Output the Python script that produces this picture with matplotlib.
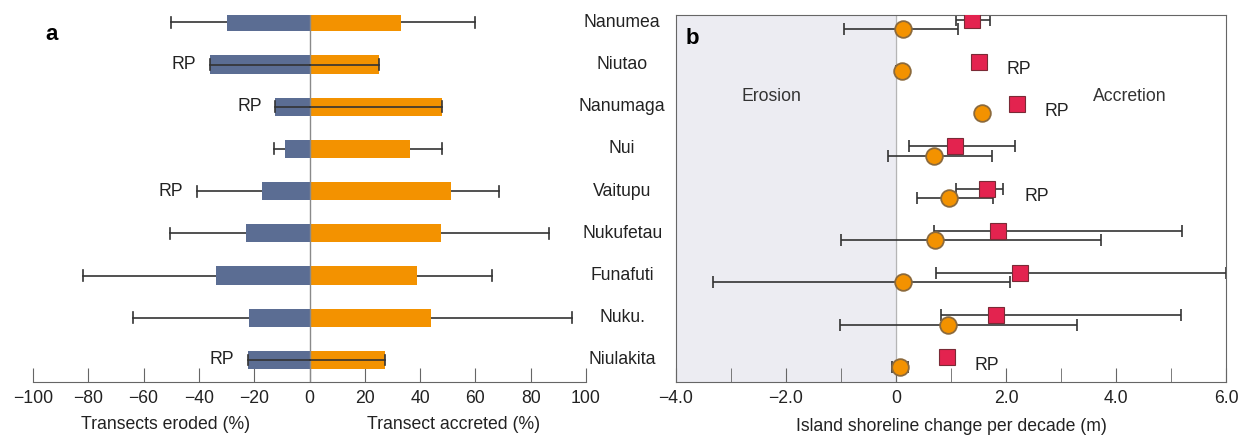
import numpy as np
import matplotlib.pyplot as plt
from matplotlib.transforms import blended_transform_factory

plt.rcParams['font.family'] = ['Liberation Sans', 'DejaVu Sans']
plt.rcParams['font.size'] = 12.7

islands = ["Nanumea", "Niutao", "Nanumaga", "Nui", "Vaitupu",
           "Nukufetau", "Funafuti", "Nuku.", "Niulakita"]

# panel a: share of transects eroded / accreted (%) and whisker ends
eroded = [-30, -36, -12.3, -9, -17.3, -22.9, -33.8, -22, -22.3]
eroded_err = [-50, -36, -12.3, -12.7, -40.8, -50.4, -82, -63.7, -22.3]
accreted = [33, 25.3, 48, 36.5, 51.3, 47.4, 38.8, 44, 27.4]
accreted_err = [60, 25.3, 48, 48, 68.7, 86.5, 65.9, 95, 27.4]
rp = [False, True, True, False, True, False, False, False, True]

# panel b: shoreline change per decade (m)
circ = [0.12, 0.11, 1.57, 0.69, 0.96, 0.71, 0.12, 0.95, 0.08]
circ_lo = [-0.95, 0.0, 1.47, -0.15, 0.38, -1.0, -3.33, -1.02, -0.07]
circ_hi = [1.13, 0.22, 1.67, 1.74, 1.76, 3.72, 2.08, 3.29, 0.22]
sq = [1.38, 1.51, 2.2, 1.07, 1.65, 1.86, 2.25, 1.82, 0.93]
sq_lo = [1.09, 1.41, 2.1, 0.24, 1.09, 0.69, 0.73, 0.82, 0.83]
sq_hi = [1.71, 1.61, 2.3, 2.16, 1.94, 5.2, 6.0, 5.18, 1.02]

blue = '#5b6d93'
orange = '#f39200'
red = '#e3234f'
dark = '#333333'
spine_c = '#666666'

y = np.arange(len(islands))
ylim = (8.52, -0.17)

fig = plt.figure(figsize=(12.48, 4.38), dpi=100)
ax1 = fig.add_axes([0.0264, 0.128, 0.4432, 0.8374])
ax2 = fig.add_axes([0.5417, 0.128, 0.4407, 0.8374])

# ---- panel a ----
for i in y:
    z = 4 if eroded_err[i] == eroded[i] else 1
    ax1.plot([0, eroded_err[i]], [i, i], color=dark, lw=1.2, zorder=z)
    ax1.plot([eroded_err[i]] * 2, [i - 0.13, i + 0.13], color=dark, lw=1.2, zorder=z)
    z = 4 if accreted_err[i] == accreted[i] else 1
    ax1.plot([0, accreted_err[i]], [i, i], color=dark, lw=1.2, zorder=z)
    ax1.plot([accreted_err[i]] * 2, [i - 0.13, i + 0.13], color=dark, lw=1.2, zorder=z)
ax1.barh(y, eroded, height=0.43, color=blue, zorder=2)
ax1.barh(y, accreted, height=0.43, color=orange, zorder=2)
ax1.axvline(0, color='#8a8a8a', lw=1, zorder=3)
for i in y:
    if rp[i]:
        ax1.text(eroded_err[i] - 5, i, 'RP', ha='right', va='center', color='#222222')

ax1.set_xlim(-100, 100)
ax1.set_ylim(*ylim)
ax1.set_yticks([])
for s in ['left', 'right', 'top']:
    ax1.spines[s].set_visible(False)
ax1.spines['bottom'].set_color(spine_c)
ax1.set_xticks(np.arange(-100, 101, 20))
ax1.tick_params(axis='x', direction='in', length=10, color=spine_c, pad=6, labelcolor='#222222')
tr = blended_transform_factory(ax1.transData, fig.transFigure)
ax1.text(-52, 0.03, 'Transects eroded (%)', transform=tr, ha='center', va='center', color='#222222')
ax1.text(52, 0.03, 'Transect accreted (%)', transform=tr, ha='center', va='center', color='#222222')
ax1.text(0.036, 0.921, 'a', transform=fig.transFigure, fontsize=16, fontweight='bold', va='center')

# ---- panel b ----
ax2.axvspan(-4, 0, color='#ececf2', zorder=0)
ax2.axvline(0, color='#b5b5b5', lw=0.9, zorder=1)
yc = y + 0.16
ys = y - 0.06
ax2.errorbar(circ, yc, xerr=[np.subtract(circ, circ_lo), np.subtract(circ_hi, circ)],
             fmt='none', ecolor=dark, elinewidth=1.2, capsize=4, capthick=1.2, zorder=2)
ax2.errorbar(sq, ys, xerr=[np.subtract(sq, sq_lo), np.subtract(sq_hi, sq)],
             fmt='none', ecolor=dark, elinewidth=1.2, capsize=4, capthick=1.2, zorder=2)
ax2.plot(circ, yc, 'o', ms=12, mfc=orange, mec='#8c6a3c', mew=1.3, ls='none', zorder=3)
ax2.plot(sq, ys, 's', ms=11, mfc=red, mec='#7a2a36', mew=0.8, ls='none', zorder=3)
for i in y:
    if rp[i]:
        ax2.text(sq_hi[i] + 0.4, i + 0.12, 'RP', ha='left', va='center', color='#222222')

trb = blended_transform_factory(ax2.transAxes, ax2.transData)
for i, name in enumerate(islands):
    ax2.text(-0.098, i, name, transform=trb, ha='center', va='center', color='#222222')

ax2.text(-2.27, 1.75, 'Erosion', ha='center', va='center', color='#333333')
ax2.text(4.25, 1.75, 'Accretion', ha='center', va='center', color='#333333')
ax2.text(0.017, 0.935, 'b', transform=ax2.transAxes, fontsize=16, fontweight='bold', va='center')

ax2.set_xlim(-4, 6)
ax2.set_ylim(*ylim)
ax2.set_yticks([])
ax2.set_xticks([-4, -2, 0, 2, 4, 6])
ax2.set_xticklabels(['\u22124.0', '\u22122.0', '0', '2.0', '4.0', '6.0'])
ax2.set_xticks([-3, -1, 1, 3, 5], minor=True)
ax2.tick_params(axis='x', which='both', direction='in', length=10, color=spine_c, pad=6,
                labelcolor='#222222')
for s in ax2.spines.values():
    s.set_color(spine_c)
ax2.set_xlabel('Island shoreline change per decade (m)', color='#222222', labelpad=8)

fig.savefig('out.png', dpi=100)
